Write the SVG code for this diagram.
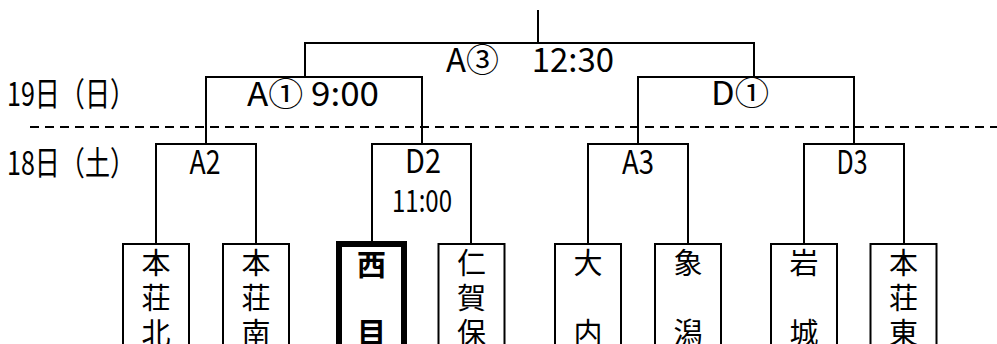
<svg xmlns="http://www.w3.org/2000/svg" width="997" height="344" viewBox="0 0 997 344">
<style>
.ln{fill:none;stroke:#000;stroke-width:2}
.box{fill:#fff;stroke:#000;stroke-width:2}
.thick{fill:#fff;stroke:#000;stroke-width:6}
.lbl{font-family:"Noto Sans CJK JP","Noto Sans",sans-serif;font-size:33px;fill:#000;text-anchor:middle}
.tm{font-family:"Noto Sans CJK JP",sans-serif;font-size:29px;fill:#000;text-anchor:middle}
</style>
<rect width="997" height="344" fill="#fff"/>
<g id="connectors">
<line class="ln" x1="30" y1="127" x2="997" y2="127" stroke-dasharray="9 6"/>
<path class="ln" d="M538 10V43M305 77V43H754V77"/>
<path class="ln" d="M206 144V77H422V144"/>
<path class="ln" d="M638 144V77H854V144"/>
<path class="ln" d="M156 244V144H256V244"/>
<path class="ln" d="M372 244V144H471V244"/>
<path class="ln" d="M588 244V144H688V244"/>
<path class="ln" d="M804 244V144H904V244"/>
</g>
<g id="labels">
<text class="lbl" x="71" y="106" textLength="128" lengthAdjust="spacingAndGlyphs">19日（日）</text>
<text class="lbl" x="71" y="175" textLength="128" lengthAdjust="spacingAndGlyphs">18日（土）</text>
</g>
<g id="m-A3"><text class="lbl" x="530" y="72" textLength="168" lengthAdjust="spacingAndGlyphs">A③　12:30</text></g>
<g id="m-A1"><text class="lbl" x="313" y="106" textLength="132" lengthAdjust="spacingAndGlyphs">A① 9:00</text></g>
<g id="m-D1"><text class="lbl" x="740" y="105" textLength="58" lengthAdjust="spacingAndGlyphs">D①</text></g>
<g id="m-A2"><text class="lbl" x="205" y="174" textLength="31" lengthAdjust="spacingAndGlyphs">A2</text></g>
<g id="m-D2"><text class="lbl" x="423" y="173" textLength="36" lengthAdjust="spacingAndGlyphs">D2</text>
<text class="lbl" x="422" y="212" textLength="60" lengthAdjust="spacingAndGlyphs" style="font-size:31px">11:00</text></g>
<g id="m-A3b"><text class="lbl" x="638" y="174" textLength="32" lengthAdjust="spacingAndGlyphs">A3</text></g>
<g id="m-D3"><text class="lbl" x="852" y="174" textLength="31" lengthAdjust="spacingAndGlyphs">D3</text></g>
<g id="t-honjokita"><rect class="box" x="123" y="244" width="66" height="110"/>
<text class="tm" x="156" y="274">本</text><text class="tm" x="156" y="309">荘</text><text class="tm" x="156" y="344">北</text></g>
<g id="t-honjominami"><rect class="box" x="223" y="244" width="66" height="110"/>
<text class="tm" x="256" y="274">本</text><text class="tm" x="256" y="309">荘</text><text class="tm" x="256" y="344">南</text></g>
<g id="t-nishime"><rect class="thick" x="339" y="244" width="65" height="110"/>
<text class="tm" x="371.5" y="276" font-weight="bold">西</text><text class="tm" x="371.5" y="344" font-weight="bold">目</text></g>
<g id="t-nikaho"><rect class="box" x="438.5" y="244" width="66" height="110"/>
<text class="tm" x="471.5" y="274">仁</text><text class="tm" x="471.5" y="309">賀</text><text class="tm" x="471.5" y="344">保</text></g>
<g id="t-ouchi"><rect class="box" x="555" y="244" width="66" height="110"/>
<text class="tm" x="588" y="274">大</text><text class="tm" x="588" y="344">内</text></g>
<g id="t-kisakata"><rect class="box" x="655" y="244" width="66" height="110"/>
<text class="tm" x="688" y="274">象</text><text class="tm" x="688" y="344">潟</text></g>
<g id="t-iwaki"><rect class="box" x="771" y="244" width="66" height="110"/>
<text class="tm" x="804" y="274">岩</text><text class="tm" x="804" y="344">城</text></g>
<g id="t-honjohigashi"><rect class="box" x="870.5" y="244" width="66" height="110"/>
<text class="tm" x="903.5" y="274">本</text><text class="tm" x="903.5" y="309">荘</text><text class="tm" x="903.5" y="344">東</text></g>
</svg>
